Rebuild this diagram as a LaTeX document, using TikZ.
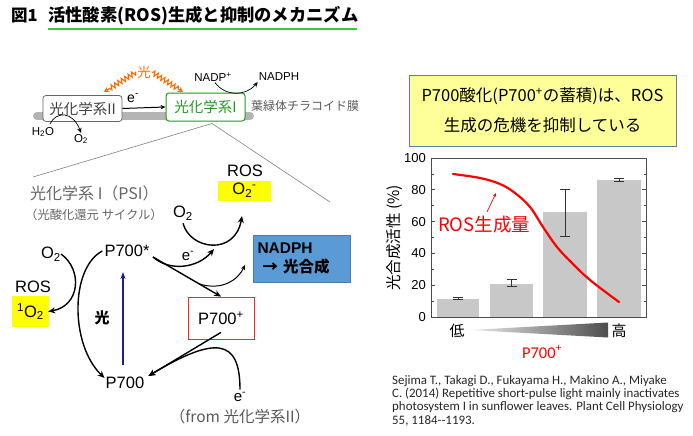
\documentclass[tikz,border=0pt]{standalone}
\usepackage{fontspec}
\setmainfont{Liberation Sans}
\newfontfamily\jp{Noto Sans CJK JP}
\newfontfamily\hand{Carlito}
\usetikzlibrary{arrows.meta,decorations.pathmorphing,calc}
\newcommand\fsz[1]{\fontsize{#1}{#1}\selectfont}
\definecolor{psgreen}{HTML}{1E9A1E}
\definecolor{tgreen}{HTML}{33CC33}
\definecolor{orng}{HTML}{FF6A00}
\definecolor{navyb}{HTML}{1C1C8C}
\definecolor{nblue}{HTML}{5B9BD5}
\definecolor{lyellow}{HTML}{FFFF99}
\definecolor{boxborder}{HTML}{5A7DB5}
\definecolor{bargray}{HTML}{C8C8C8}
\definecolor{memgray}{HTML}{B4B4B4}
\definecolor{txtgray}{HTML}{555555}
\definecolor{ybox}{HTML}{FFFF00}
\tikzset{
  arr/.style={-{Stealth[length=7pt,width=6pt]}, line width=1.4pt},
  thinarr/.style={-{Stealth[length=5pt,width=4.5pt]}, line width=0.8pt},
  lbl/.style={font=\fsz{16.5}, inner sep=1pt},
  ysq/.style={fill=ybox, inner sep=0pt},
  wavy/.style={orng, line width=1.1pt, decorate,
    decoration={zigzag, amplitude=2.4pt, segment length=4pt, pre length=1pt, post length=5pt},
    -{Stealth[length=5pt,width=6pt]}},
  zoomline/.style={gray, line width=0.6pt},
}
\begin{document}
\begin{tikzpicture}[x=1pt,y=-1pt]
\useasboundingbox (0,0) rectangle (693,436);
\fill[white] (0,0) rectangle (693,436);

% ---------- title ----------
\node[anchor=west, font=\jp\bfseries\fsz{16.5}, inner sep=0pt] (fig) at (11,16) {図1};
\node[anchor=west, font=\jp\bfseries\fsz{17.3}, inner sep=0pt] (title) at (48,16) {活性酸素(ROS)生成と抑制のメカニズム};
\draw[tgreen, line width=2pt] (48,29) -- (357,29);

% ---------- membrane ----------
\draw[line width=8pt, memgray, line cap=round] (37,116) -- (250,116);
\node[draw=black!60, rounded corners=3pt, fill=white, line width=0.8pt,
      minimum width=79pt, minimum height=26pt, inner sep=0pt,
      font=\jp\fsz{14.5}, text=black!75] (ps2) at (82.5,108.5) {光化学系II};
\node[draw=psgreen, rounded corners=3pt, fill=white, line width=1pt,
      minimum width=79pt, minimum height=28pt, inner sep=0pt,
      font=\jp\fsz{14.5}, text=psgreen] (ps1) at (205.5,107) {光化学系I};
\draw[thinarr, line width=1pt] (ps2.east) -- (ps1.west);
\node[font=\fsz{14}, inner sep=0pt] (e1) at (133,98) {e\textsuperscript{-}};
\node[anchor=west, font=\jp\fsz{12}, text=black!65, inner sep=0pt] (thyl) at (251,106) {葉緑体チラコイド膜};

% light
\node[font=\jp\fsz{13.5}, text=orng, inner sep=1pt] (light) at (144,72) {光};
\coordinate (w1) at (104,92);
\coordinate (w2) at (183,92);
\draw[wavy] (light.west) -- (w1);
\draw[wavy] (light.east) -- (w2);

% NADP+
\node[font=\fsz{11.5}, inner sep=1pt] (nadp) at (213,77) {NADP\textsuperscript{+}};
\node[font=\fsz{11.5}, inner sep=1pt] (nadph) at (279,77) {NADPH};
\draw[thinarr, line width=0.7pt] ([xshift=2pt]nadp.south) .. controls (226,97) and (246,96) .. (nadph.south west);

% water
\node[font=\fsz{11.5}, inner sep=1pt] (h2o) at (43,132) {H\textsubscript{2}O};
\node[font=\fsz{11.5}, inner sep=1pt] (o2a) at (81,139) {O\textsubscript{2}};
\draw[thinarr, line width=0.7pt] (50,124) .. controls (56,111) and (73,111) .. (o2a.north);

% zoom lines
\coordinate (apex) at (212,123.5);
\coordinate (zl) at (33,177);
\coordinate (zr) at (330,202);
\draw[zoomline] (zl) -- (apex) -- (zr);

% ---------- PSI cycle ----------
\node[anchor=west, font=\jp\fsz{16}, text=black!60, inner sep=0pt] (psi) at (30,193) {光化学系 I（PSI）};
\node[anchor=west, font=\jp\fsz{12.3}, text=black!60, inner sep=0pt] (cyc) at (25,215) {（光酸化還元 サイクル）};

\node[font=\fsz{16.5}, inner sep=0pt] (ros1) at (245,171) {ROS};
\node[ysq, minimum width=53pt, minimum height=20pt, font=\fsz{16.5}] (o2m) at (244.5,190.5) {O\textsubscript{2}\textsuperscript{-}};
\node[lbl] (o2b) at (183,213) {O\textsubscript{2}};

\node[lbl] (p7s) at (127,251) {P700*};
\node[lbl] (p70) at (125,383) {P700};
\node[draw=red!85, line width=0.8pt, minimum width=66pt, minimum height=42pt, font=\fsz{16.5}, inner sep=0pt] (p7p) at (221,318) {P700\textsuperscript{+}};

\node[draw=nblue!80!black, line width=0.5pt, fill=nblue, minimum width=97pt, minimum height=47pt,
      text width=88pt, align=left, inner sep=4.5pt, font=\bfseries\fsz{15.5}] (nbox) at (301.5,258.5)
      {NADPH\\[3pt]\hspace*{5pt}{\jp\bfseries → 光合成}};

\node[font=\fsz{15}, inner sep=1pt] (e2) at (188,256) {e\textsuperscript{-}};

% O2 -> O2-
\coordinate (o2tip) at (242,216);
\draw[arr] ([yshift=-2pt]o2b.south) .. controls (190,250) and (235,256) .. (o2tip);
% e- arc
\coordinate (join) at (214,249);
\coordinate (pstart) at (153,257);
\draw[arr] (pstart) .. controls (170,272) and (198,268) .. (join);
% P700* -> P700+
\draw[arr] (pstart) -- (p7p.north);
% branch to NADPH
\coordinate (nbr) at ($(pstart)!0.68!(p7p.north)$);
\coordinate (ntip) at (245,265);
\draw[thinarr, line width=1pt] (nbr) .. controls (222,291) and (238,280) .. (ntip);

% P700+ -> P700
\draw[arr] ([yshift=7pt]p7p.south) -- ([xshift=3pt]p70.north east);
\node[font=\fsz{15}, inner sep=1pt] (e3) at (240,397) {e\textsuperscript{-}};
\node[font=\jp\fsz{15.5}, text=black!65, inner sep=1pt] (from) at (240,417) {（from 光化学系II）};
\draw[arr] ([yshift=2pt]e3.north) .. controls (240,338) and (215,336) .. ([xshift=3pt]p70.north east);

% light arrow
\draw[-{Stealth[length=7pt,width=5pt]}, navyb, line width=1.3pt] (123,365) -- (123,272);
\node[font=\jp\bfseries\fsz{15}, inner sep=0pt] (hikari) at (102,318) {光};

% singlet oxygen
\node[lbl] (o2c) at (51,254) {O\textsubscript{2}};
\node[lbl] (ros2) at (33,287) {ROS};
\node[ysq, minimum width=37pt, minimum height=31pt, font=\fsz{16.5}] (o2s) at (30.5,311.5) {\textsuperscript{1}O\textsubscript{2}};
\draw[arr] ([xshift=-1pt]o2c.east) .. controls (83,270) and (80,306) .. ([xshift=-1pt]o2s.east);
\draw[arr] ([xshift=-1pt]p7s.west) .. controls (70,268) and (70,345) .. ([yshift=-2pt]p70.north west);

% ---------- right: message ----------
\node[draw=boxborder, line width=0.8pt, fill=lyellow, minimum width=267pt, minimum height=71pt,
      align=center, font=\jp\fsz{16.5}, inner sep=0pt] (msg) at (542.5,110.5)
      {P700酸化(P700\textsuperscript{+}の蓄積)は、ROS\\[12pt]生成の危機を抑制している};

% ---------- chart ----------
\begin{scope}[shift={(431,317)}, yscale=-1.59]
  \fill[bargray] (6,0) rectangle (48,11.5);
  \fill[bargray] (59,0) rectangle (102,21);
  \fill[bargray] (112,0) rectangle (156,66);
  \fill[bargray] (166,0) rectangle (210,86);
  \foreach \cx/\lo/\hi in {27/10.8/12.3, 80.5/19/23.5, 134/51/80, 188/85/87} {
    \draw[black!80, line width=0.8pt] (\cx,\lo) -- (\cx,\hi);
    \draw[black!80, line width=0.8pt] (\cx-5,\lo) -- (\cx+5,\lo);
    \draw[black!80, line width=0.8pt] (\cx-5,\hi) -- (\cx+5,\hi);
  }
  \draw[black!70, line width=0.9pt] (0,0) rectangle (215,100);
  \foreach \v in {0,20,40,60,80,100} {
    \draw[black!70, line width=0.8pt] (0,\v) -- (4,\v);
    \draw[black!70, line width=0.8pt] (215,\v) -- (211,\v);
    \node[anchor=east, font=\fsz{13}, inner sep=0pt] (t\v) at (-5,\v) {\v};
  }
  \foreach \v in {10,30,50,70,90} {
    \draw[black!70, line width=0.8pt] (0,\v) -- (2.5,\v);
    \draw[black!70, line width=0.8pt] (215,\v) -- (212.5,\v);
  }
\end{scope}
\node[rotate=90, font=\jp\fsz{15.5}, inner sep=0pt] (ylab) at (395,238) {光合成活性 (\%)};

\draw[red, line width=2.2pt, line cap=round] plot[smooth, tension=0.6] coordinates
  {(453,174) (480,178) (500,184) (515,193) (530,207) (543,227) (557,247) (572,263) (590,280) (619,302)};
\node[font=\jp\fsz{18.5}, text=red, inner sep=0pt] (rosq) at (484,225) {ROS生成量};
\coordinate (ra) at (487,212);
\coordinate (rb) at (496,193);
\draw[red, line width=0.7pt, -{Stealth[length=4pt,width=3pt]}] (ra) -- (rb);

\node[font=\jp\fsz{15}, inner sep=0pt] (low) at (457,331) {低};
\node[font=\jp\fsz{15}, inner sep=0pt] (high) at (619,331) {高};
\shade[left color=gray!15, right color=black!70] (470,330) -- (608,322.5) -- (608,337.5) -- cycle;

\node[font=\hand\fsz{16.5}, text=red, inner sep=0pt] (p7lab) at (542,352) {P700\textsuperscript{+}};

\node[anchor=north west, align=left, font=\hand\fontsize{12.9}{13.4}\selectfont, text=black!85, inner sep=0pt] (cite) at (392,375)
 {Sejima T., Takagi D., Fukayama H., Makino A., Miyake\\
  C. (2014) Repetitive short-pulse light mainly inactivates\\
  photosystem I in sunflower leaves. Plant Cell Physiology\\
  55, 1184--1193.};
\end{tikzpicture}
\end{document}
